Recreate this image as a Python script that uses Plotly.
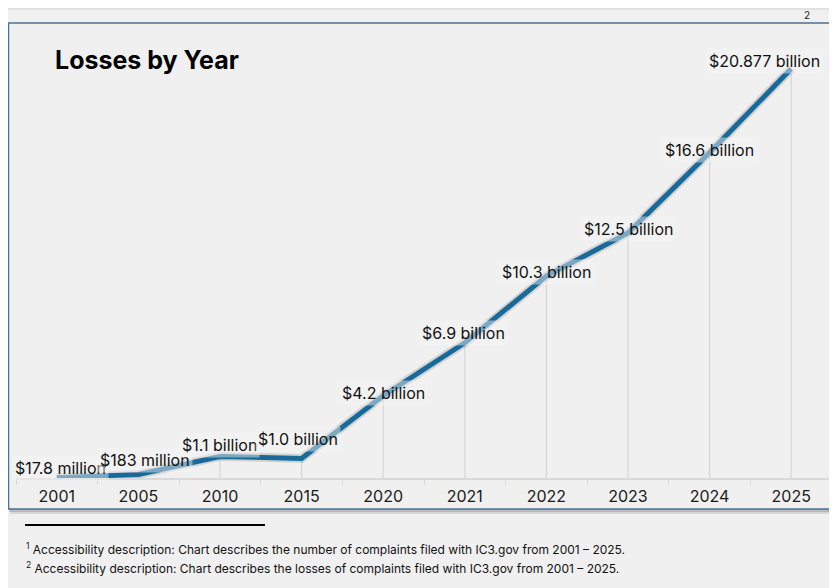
import plotly.graph_objects as go

years = ["2001", "2005", "2010", "2015", "2020", "2021", "2022", "2023", "2024", "2025"]
losses_billion = [0.0178, 0.183, 1.1, 1.0, 4.2, 6.9, 10.3, 12.5, 16.6, 20.877]
labels = ["$17.8 million", "$183 million", "$1.1 billion", "$1.0 billion", "$4.2 billion",
          "$6.9 billion", "$10.3 billion", "$12.5 billion", "$16.6 billion", "$20.877 billion"]
footnotes = [
    "<sup>1</sup> Accessibility description: Chart describes the number of complaints filed with IC3.gov from 2001 – 2025.",
    "<sup>2</sup> Accessibility description: Chart describes the losses of complaints filed with IC3.gov from 2001 – 2025.",
]

# label offsets (pixels) – styling only
label_xshift = [4, 7, -1, -4, 0, -1, 0, 0, 0, -27]
label_yshift = [10, 14, 11, 19, 3, 10, 4, 4, 3, 8]

# page has an 8px body margin; work in screen coordinates and convert
OFF = 8
SW, SH = 837, 588
W, H = SW - OFF, SH - OFF
# plot area in screen coords
PX0, PX1, PY0, PY1 = 16, 832, 30, 478
L = PX0 - OFF
R = W - (PX1 - OFF)
T = PY0 - OFF
B = H - (PY1 - OFF)
pw, ph = PX1 - PX0, PY1 - PY0

def px(x):
    return (x - PX0) / pw

def py(y):
    return (PY1 - y) / ph

BG = "#f0f0f0"
FONT = "Inter, Liberation Sans, sans-serif"

fig = go.Figure()

# drop lines
fig.add_trace(go.Scatter(
    x=years, y=losses_billion, mode="markers",
    marker=dict(size=1, color="rgba(0,0,0,0)"),
    error_y=dict(type="data", symmetric=False, array=[0] * len(losses_billion),
                 arrayminus=losses_billion, color="#d6d6d6", thickness=1.2, width=0),
    hoverinfo="skip", showlegend=False,
))
# soft shadow of line
fig.add_trace(go.Scatter(
    x=years, y=losses_billion, mode="lines",
    line=dict(color="rgba(0,0,0,0.12)", width=9),
    hoverinfo="skip", showlegend=False,
))
fig.add_trace(go.Scatter(
    x=years, y=losses_billion, mode="lines",
    line=dict(color="#186a9b", width=5),
    showlegend=False,
))

annotations = []
for i, (v, lab, xs, ys) in enumerate(zip(losses_billion, labels, label_xshift, label_yshift)):
    annotations.append(dict(
        x=i, y=v, xref="x", yref="y", text=lab, showarrow=False,
        xshift=xs, yshift=ys, font=dict(family=FONT, size=16, color="#111111"),
        bgcolor="rgba(244,244,244,0.45)", borderpad=2,
    ))

annotations.append(dict(
    x=px(53), y=py(60), xref="paper", yref="paper", xanchor="left", yanchor="middle",
    text="<b>Losses by Year</b>", showarrow=False,
    font=dict(family=FONT, size=25, color="#000000"),
))
annotations.append(dict(
    x=px(807), y=py(15), xref="paper", yref="paper", xanchor="center", yanchor="middle",
    text="2", showarrow=False, font=dict(family=FONT, size=10, color="#222222"),
))
for i, t in enumerate(footnotes):
    annotations.append(dict(
        x=px(24), y=py(549 + 19 * i), xref="paper", yref="paper", xanchor="left", yanchor="middle",
        text=t, showarrow=False, font=dict(family=FONT, size=12, color="#111111"),
    ))

shapes = [
    # faint top rule
    dict(type="line", xref="paper", yref="paper", x0=px(8), x1=px(830), y0=py(9), y1=py(9),
         line=dict(color="#dddddd", width=1.5), layer="below"),
    # box shadow
    dict(type="rect", xref="paper", yref="paper", x0=px(10), x1=px(836), y0=py(27), y1=py(514),
         fillcolor="rgba(0,0,0,0.10)", line=dict(width=0), layer="below"),
    dict(type="rect", xref="paper", yref="paper", x0=px(9), x1=px(834.5), y0=py(25), y1=py(512),
         fillcolor="rgba(0,0,0,0.14)", line=dict(width=0), layer="below"),
    # box
    dict(type="rect", xref="paper", yref="paper", x0=px(8.5), x1=px(832), y0=py(23), y1=py(509),
         fillcolor=BG, line=dict(color="#4a7299", width=1.5), layer="below"),
    # footnote rule
    dict(type="line", xref="paper", yref="paper", x0=px(25), x1=px(265), y0=py(525), y1=py(525),
         line=dict(color="#000000", width=2)),
]

fig.update_layout(
    width=W, height=H,
    margin=dict(l=L, r=R, t=T, b=B),
    paper_bgcolor=BG, plot_bgcolor="rgba(0,0,0,0)",
    annotations=annotations, shapes=shapes,
    xaxis=dict(type="category", categoryorder="array", categoryarray=years,
               range=[-0.5, len(years) - 0.5], showgrid=False, zeroline=False,
               showline=True, linecolor="#d9d9d9", linewidth=1.5,
               ticks="outside", tickson="boundaries", ticklen=5, tickcolor="#d9d9d9",
               ticklabelstandoff=3,
               tickfont=dict(family=FONT, size=16, color="#1a1a1a")),
    yaxis=dict(range=[0, ph / 19.6], visible=False, fixedrange=True),
    showlegend=False,
)

fig.write_html("out.html")
